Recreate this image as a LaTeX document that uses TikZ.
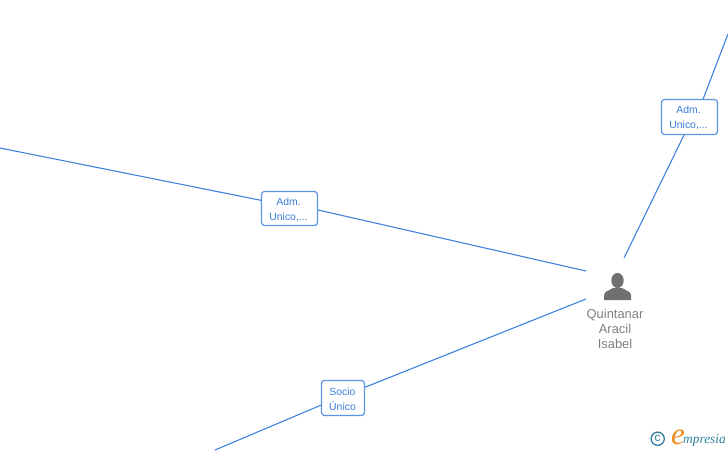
\documentclass[tikz,border=0pt]{standalone}
\usepackage{fontspec}
\setmainfont{Liberation Sans}
\newfontfamily\logofont{Liberation Serif}
\definecolor{linkblue}{HTML}{3F82E0}
\definecolor{labelblue}{HTML}{3B7DDD}
\definecolor{persongray}{HTML}{707070}
\definecolor{nametext}{HTML}{808080}
\definecolor{logoteal}{HTML}{2F7F9A}
\definecolor{logoorange}{HTML}{F08A1D}
\tikzset{
  link/.style={draw=linkblue,line width=1.1pt},
  rolebox/.style={draw=linkblue!85,fill=white,rounded corners=3pt,line width=1.25pt},
  roletext/.style={inner sep=0pt,text=labelblue,font=\fontsize{10.4}{15}\selectfont,align=center},
  personname/.style={text=nametext,font=\fontsize{12.9}{15}\selectfont,align=center,inner sep=0pt},
}
\begin{document}
\begin{tikzpicture}[x=1pt,y=-1pt]
\useasboundingbox (0,0) rectangle (728,450);
\fill[white] (0,0) rectangle (728,450);
% free ends
\coordinate (aL) at (0,148);
\coordinate (aR) at (586,271);
\coordinate (bT) at (728,34);
\coordinate (bB) at (624,258);
\coordinate (cL) at (215,450);
\coordinate (cR) at (586,299);
\node[rolebox,minimum width=56pt,minimum height=34pt] (boxA) at (289.5,208.5) {};
\node[rolebox,minimum width=56pt,minimum height=35pt] (boxB) at (689.5,117) {};
\node[rolebox,minimum width=43pt,minimum height=35pt] (boxC) at (343,398) {};
\draw[link] (aL) -- (boxA.164);
\draw[link] (boxA.-3) -- (aR);
\draw[link] (bT) -- (boxB.53);
\draw[link] (boxB.-107) -- (bB);
\draw[link] (cL) -- (boxC.198);
\draw[link] (boxC.26) -- (cR);
\node[roletext] (textA) at (288.5,210) {Adm.\\Unico,...};
\node[roletext] (textB) at (688.5,118) {Adm.\\Unico,...};
\node[roletext] (textC) at (342.5,399) {Socio\\Único};
% person icon
\fill[persongray] (617.5,280.5) ellipse (6.2 and 7.6);
\fill[persongray] (604,300) -- (604,295.5) .. controls (604,291.5) and (608,291) .. (613,288)
  -- (622,288) .. controls (627,291) and (631,291.5) .. (631,295.5) -- (631,300) -- cycle;
\node[personname] (person) at (615,329) {Quintanar\\Aracil\\Isabel};
% logo
\draw[logoteal,line width=1.3pt] (657.7,438.7) circle (6.6);
\node[inner sep=0pt,text=logoteal,font=\fontsize{12}{12}\selectfont] (copy) at (657.7,438.2) {c};
\node[inner sep=0pt,text=logoorange,font=\logofont\itshape\fontsize{31}{31}\selectfont] (logoE) at (678,437) {e};
\node[inner sep=0pt,anchor=base west,text=logoteal,font=\logofont\itshape\fontsize{13.4}{14}\selectfont] (logoT) at (683,443) {mpresia};
\end{tikzpicture}
\end{document}
